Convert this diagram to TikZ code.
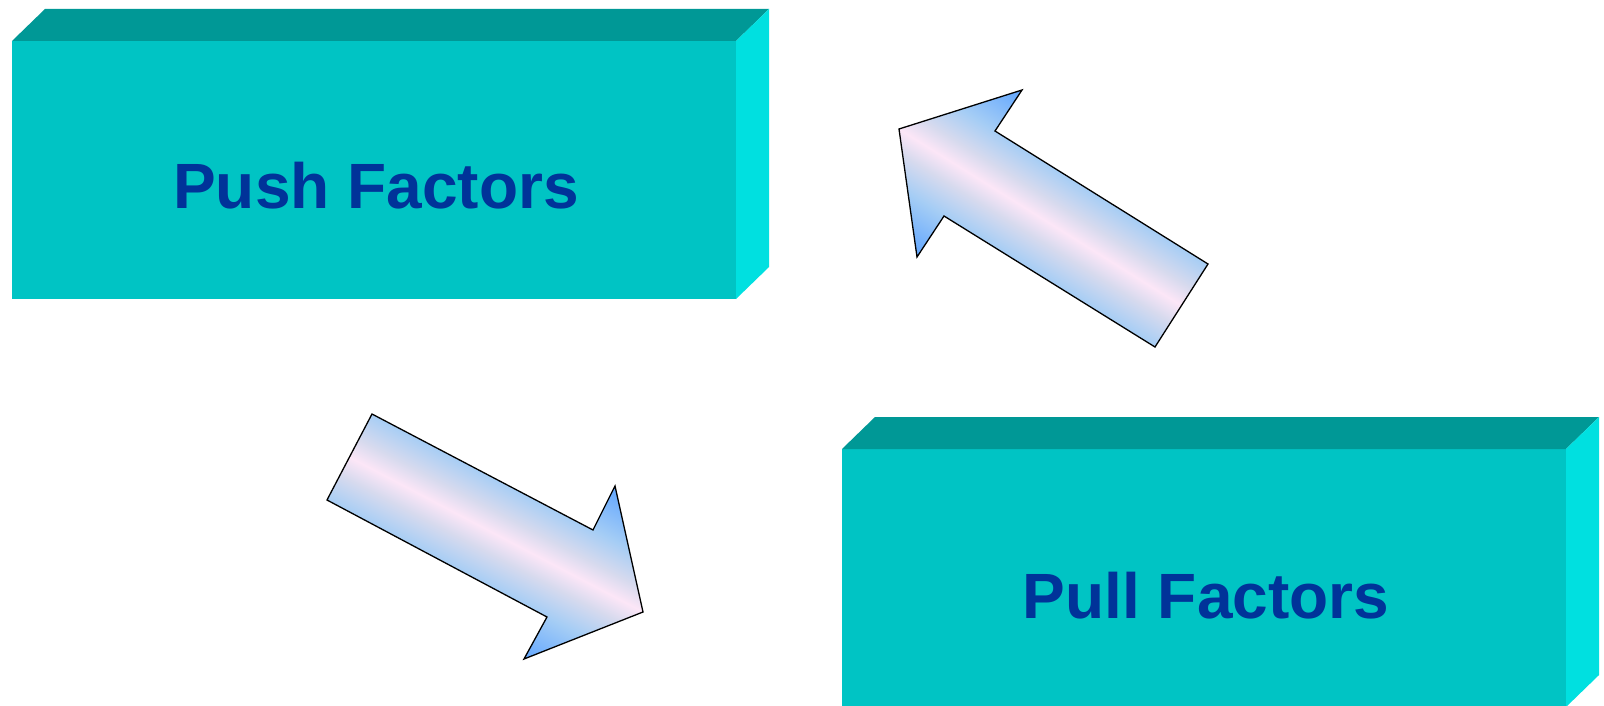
\documentclass[tikz,border=0pt]{standalone}
\usepackage{fontspec}
\setmainfont{Liberation Sans}
\definecolor{frontc}{RGB}{0,196,196}
\definecolor{topc}{RGB}{0,152,150}
\definecolor{sidec}{RGB}{0,224,224}
\definecolor{txtc}{RGB}{0,51,153}
\definecolor{arrblue}{RGB}{95,165,255}
\definecolor{arredge}{RGB}{165,205,245}
\definecolor{arrmid}{RGB}{215,218,238}
\definecolor{arrpink}{RGB}{252,230,247}
\pgfdeclareverticalshading{arrshade}{100bp}{color(0bp)=(arrblue); color(25bp)=(arrblue); color(37.5bp)=(arredge); color(45bp)=(arrmid); color(50bp)=(arrpink); color(55bp)=(arrmid); color(62.5bp)=(arredge); color(75bp)=(arrblue); color(100bp)=(arrblue)}
\begin{document}
\begin{tikzpicture}[x=1pt,y=-1pt,
  face/.style={draw=none, inner sep=0pt, outer sep=0pt, fill=frontc, minimum width=724pt, minimum height=258pt},
  boxlab/.style={text=txtc, font=\fontsize{64}{70}\selectfont\bfseries, inner sep=0pt, anchor=base},
  arrowshape/.style={draw=black, line width=1.3pt, line join=miter},
  arrowfill/.style={shading=arrshade}]
\fill[white] (0,0) rectangle (1604,706);
\useasboundingbox (0,0) rectangle (1604,706);

% Box 1 (Push)
\node[face] (pushbox) at (374,170) {};
\fill[topc] (pushbox.north west) -- ++(33,-32) -- ++(724,0) -- (pushbox.north east) -- cycle;
\fill[sidec] (pushbox.north east) -- ++(33,-32) -- ++(0,258) -- (pushbox.south east) -- cycle;
\node[boxlab] (push) at (376,208) {Push Factors};

% Box 2 (Pull)
\node[face] (pullbox) at (1204,578) {};
\fill[topc] (pullbox.north west) -- ++(33,-32) -- ++(724,0) -- (pullbox.north east) -- cycle;
\fill[sidec] (pullbox.north east) -- ++(33,-32) -- ++(0,258) -- (pullbox.south east) -- cycle;
\node[boxlab] (pull) at (1206,618) {Pull Factors};

% Arrow 2 (down-right)
\begin{scope}
\clip (372,414) -- (593,530) -- (615,486) -- (643,612) -- (524,659) -- (547,617) -- (327,500) -- cycle;
\begin{scope}[transform canvas={shift={(349.5,457)},rotate=-27.8}]
\shade[arrowfill] (-60,-99) rectangle (370,99);
\end{scope}
\end{scope}
\draw[arrowshape] (372,414) -- (593,530) -- (615,486) -- (643,612) -- (524,659) -- (547,617) -- (327,500) -- cycle;

% Arrow 1 (up-left)
\begin{scope}
\clip (899,129) -- (1022,90) -- (995,131) -- (1208,264) -- (1155,347) -- (944,216) -- (917,257) -- cycle;
\begin{scope}[transform canvas={shift={(1181.5,305.5)},rotate=148}]
\shade[arrowfill] (-60,-99) rectangle (370,99);
\end{scope}
\end{scope}
\draw[arrowshape] (899,129) -- (1022,90) -- (995,131) -- (1208,264) -- (1155,347) -- (944,216) -- (917,257) -- cycle;
\end{tikzpicture}
\end{document}
